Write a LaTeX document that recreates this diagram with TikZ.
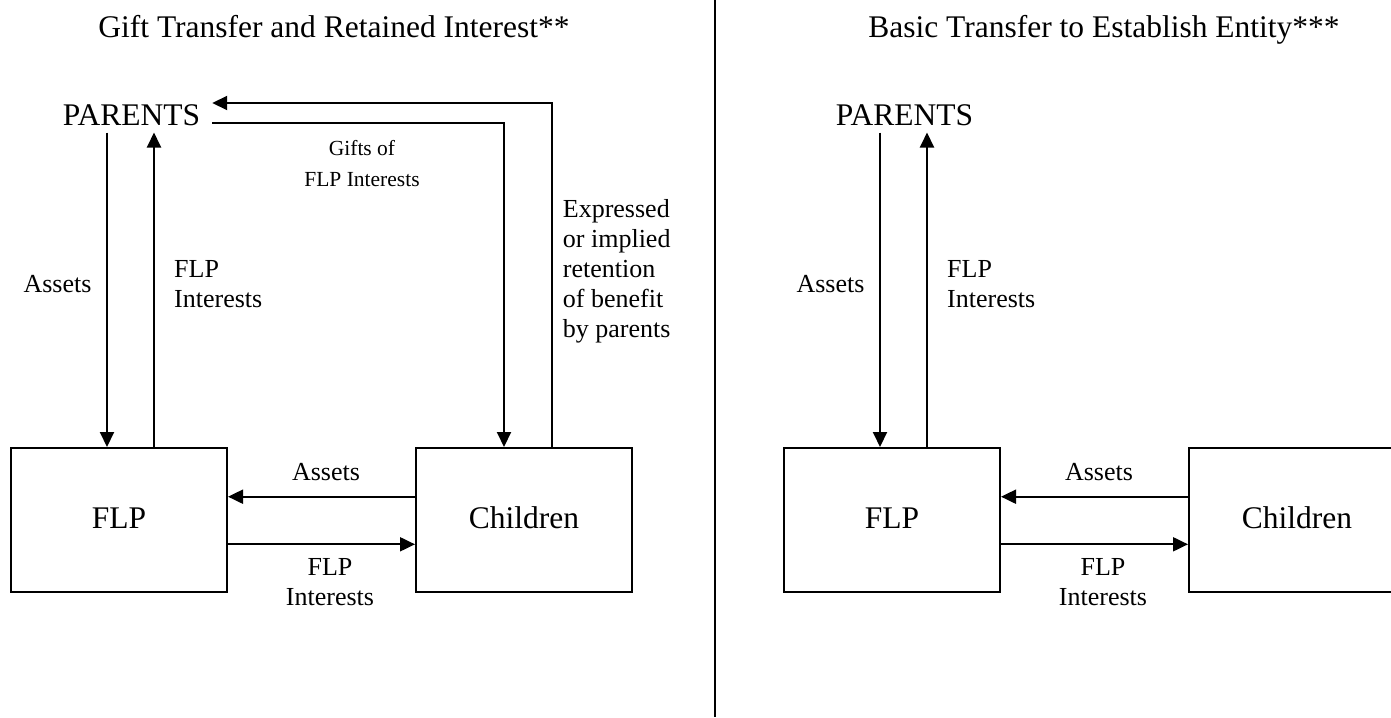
\documentclass[tikz,border=0pt]{standalone}
\usepackage{fontspec}
\setmainfont{Liberation Serif}
\usetikzlibrary{arrows.meta}
\begin{document}
\begin{tikzpicture}[x=1pt,y=-1pt,
  big/.style={font=\fontsize{31.5}{36}\selectfont},
  lbl/.style={font=\fontsize{26}{30}\selectfont, inner sep=0pt, align=left},
  giftlbl/.style={font=\fontsize{21.5}{31}\selectfont, inner sep=0pt, align=center},
  entity/.style={draw, line width=2pt, minimum width=216pt, minimum height=144pt,
    inner sep=0pt, text height=21pt, text depth=5pt, big},
  party/.style={big, inner xsep=12pt, inner ysep=7pt},
  flow/.style={line width=2pt, -{Triangle[length=15pt,width=14pt]}},
]
\path[use as bounding box] (0,0) rectangle (1391,717);
\clip (0,0) rectangle (1391,717);

% panel divider
\draw[line width=2.7pt] (715,0) -- (715,717);

% ---------- left panel: gift transfer with retained interest ----------
\node[big, anchor=base] (titleL) at (334,37.5) {Gift Transfer and Retained Interest**};
\node[party, anchor=base west] (parL) at (50.7,125) {PARENTS};
\node[entity] (flpL) at (119,520) {FLP};
\node[entity] (kidsL) at (524,520) {Children};

\coordinate (cA) at (107,0);
\coordinate (cB) at (154,0);
\coordinate (cC) at (504,0);
\coordinate (cD) at (552,0);
\coordinate (r1) at (0,103);
\coordinate (r2) at (0,123);
\coordinate (r3) at (0,496.7);
\coordinate (r4) at (0,544.3);

\draw[flow] (parL.south -| cA) -- (flpL.north -| cA);
\draw[flow] (flpL.north -| cB) -- (parL.south -| cB);
\draw[flow] (parL.east |- r2) -| (kidsL.north -| cC);
\draw[flow] (kidsL.north -| cD) |- (parL.east |- r1);
\draw[flow] (kidsL.west |- r3) -- (flpL.east |- r3);
\draw[flow] (flpL.east |- r4) -- (kidsL.west |- r4);

% multi-line labels are placed by the baseline of their last line
\node[lbl, anchor=base] (assetsVL) at (57.5,292.7) {Assets};
\node[lbl, anchor=base west] (interestsVL) at (174,307.7) {FLP\\Interests};
\node[giftlbl, anchor=base] (giftsL) at (362,186) {Gifts of\\FLP Interests};
\node[lbl, anchor=base west] (retainL) at (562.7,337.5) {Expressed\\or implied\\retention\\of benefit\\by parents};
\node[lbl, anchor=base] (assetsHL) at (326,480) {Assets};
\node[lbl, anchor=base, align=center] (interestsHL) at (330,605.5) {FLP\\Interests};

% ---------- right panel: basic transfer to establish the entity ----------
\node[big, anchor=base] (titleR) at (1104,37.5) {Basic Transfer to Establish Entity***};
\node[party, anchor=base west] (parR) at (823.7,125) {PARENTS};
\node[entity] (flpR) at (892,520) {FLP};
\node[entity] (kidsR) at (1297,520) {Children};

\coordinate (cE) at (880,0);
\coordinate (cF) at (927,0);

\draw[flow] (parR.south -| cE) -- (flpR.north -| cE);
\draw[flow] (flpR.north -| cF) -- (parR.south -| cF);
\draw[flow] (kidsR.west |- r3) -- (flpR.east |- r3);
\draw[flow] (flpR.east |- r4) -- (kidsR.west |- r4);

\node[lbl, anchor=base] (assetsVR) at (830.5,292.7) {Assets};
\node[lbl, anchor=base west] (interestsVR) at (947,307.7) {FLP\\Interests};
\node[lbl, anchor=base] (assetsHR) at (1099,480) {Assets};
\node[lbl, anchor=base, align=center] (interestsHR) at (1103,605.5) {FLP\\Interests};
\end{tikzpicture}
\end{document}
